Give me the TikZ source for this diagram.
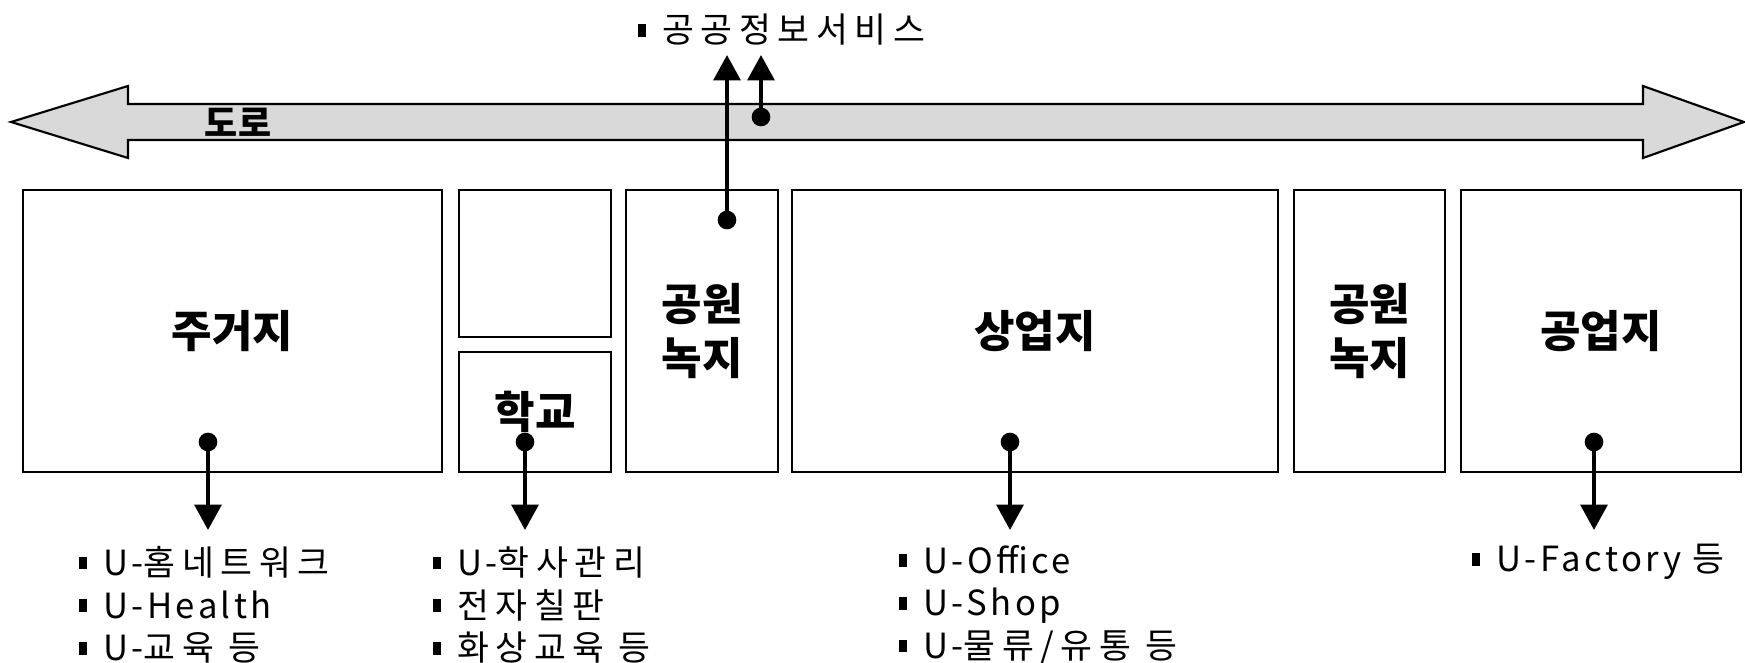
\documentclass[tikz,border=0pt]{standalone}
\usepackage{fontspec}
\setmainfont{Noto Sans CJK KR}
\usetikzlibrary{arrows.meta}
\newcommand\blt{\rule[4.6pt]{6pt}{9.5pt}\hspace{12pt}}
\newcommand\ks[1]{{\addfontfeatures{LetterSpace=19}#1}}
\begin{document}
\begin{tikzpicture}[x=0.75pt,y=-0.75pt,
  zone/.style={draw, line width=2.2pt, inner sep=0pt, font=\fontsize{33}{40}\selectfont\bfseries, align=center},
  arr/.style={line width=3pt, -{Triangle[width=20pt,length=19pt]}},
  dotmark/.style={circle, fill, inner sep=0pt, minimum size=14pt},
  lst/.style={anchor=west, align=left, inner sep=0pt, font=\fontsize{26}{32}\selectfont\addfontfeatures{LetterSpace=10}},
  roadstyle/.style={draw, line width=1.6pt, fill=black!15},
]
\useasboundingbox (0,0) rectangle (1745,663);
% road
\draw[roadstyle] (11,122) -- (128,86) -- (128,104) -- (1643,104) -- (1643,86) -- (1744,122)
  -- (1643,158) -- (1643,140) -- (128,140) -- (128,158) -- cycle;
\node[font=\fontsize{27}{27}\selectfont\bfseries] (road) at (238,122) {도로};
% zones
\node[zone, minimum width=314.25pt, minimum height=211.5pt] (res) at (232.5,331) {주거지};
\node[zone, minimum width=114pt, minimum height=110.25pt] (up) at (535,263.5) {};
\node[zone, minimum width=114pt, minimum height=90pt] (sch) at (535,412) {학교};
\node[zone, minimum width=114pt, minimum height=211.5pt] (park1) at (702,331) {공원\\녹지};
\node[zone, minimum width=364.5pt, minimum height=211.5pt] (com) at (1035,331) {상업지};
\node[zone, minimum width=113.25pt, minimum height=211.5pt] (park2) at (1369.5,331) {공원\\녹지};
\node[zone, minimum width=210pt, minimum height=211.5pt] (ind) at (1601,331) {공업지};
% dots
\node[dotmark] (d1) at (208,442) {};
\node[dotmark] (d2) at (525,442) {};
\node[dotmark] (d3) at (1010,442) {};
\node[dotmark] (d4) at (1594,442) {};
\node[dotmark] (d5) at (727,220) {};
\node[dotmark] (d6) at (761,117) {};
\coordinate (t1) at (208,530);
\coordinate (t2) at (525,530);
\coordinate (t3) at (1010,530);
\coordinate (t4) at (1594,530);
\coordinate (u1) at (727,55);
\coordinate (u2) at (761,55);
\draw[arr] (d1.center) -- (t1);
\draw[arr] (d2.center) -- (t2);
\draw[arr] (d3.center) -- (t3);
\draw[arr] (d4.center) -- (t4);
\draw[arr] (d5.center) -- (u1);
\draw[arr] (d6.center) -- (u2);
% texts
\node[lst] (svc) at (638,30) {\blt \ks{공공정보서비스}};
\node[lst] (l1) at (79,605) {\blt U-\ks{홈네트워크}\\ \blt U-Health\\ \blt U-\ks{교육 등}};
\node[lst] (l2) at (433,605) {\blt U-\ks{학사관리}\\ \blt \ks{전자칠판}\\ \blt \ks{화상교육 등}};
\node[lst] (l3) at (899,605) {\blt U-Office\\ \blt U-Shop\\ \blt U-\ks{물류/유통 등}};
\node[lst] (l4) at (1472,562) {\blt U-Factory \ks{등}};
\end{tikzpicture}
\end{document}
